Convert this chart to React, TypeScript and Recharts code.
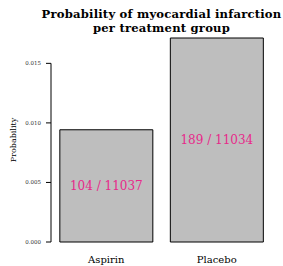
import React from 'react';
import { BarChart, Bar, XAxis, YAxis, LabelList, Label } from 'recharts';

const groups = ['Aspirin', 'Placebo'];
const events = [104, 189];
const totals = [11037, 11034];
const yTicks = [0, 0.005, 0.01, 0.015];
const yTickLabels = ['0.000', '0.005', '0.010', '0.015'];

const data = groups.map((g, i) => ({
  group: g,
  prob: events[i] / totals[i],
  label: `${events[i]} / ${totals[i]}`,
}));

const W = 283;
const H = 266;
const M = { top: 38, right: 11, bottom: 0, left: 0 };
const Y_W = 51;
const X_H = 24;
const PLOT_H = H - M.top - M.bottom - X_H;
const maxProb = Math.max(...data.map((d) => d.prob));
const FONT = 'DejaVu Serif';

const YTick = (props: any) => {
  const { x, y, index } = props;
  const lastTick = yTicks[yTicks.length - 1];
  const span = (lastTick / maxProb) * PLOT_H;
  return (
    <g>
      <line x1={x - 5} y1={y} x2={x} y2={y} stroke="#000" strokeWidth={1} />
      {index === 0 && <line x1={x} y1={y} x2={x} y2={y - span} stroke="#000" strokeWidth={1} />}
      <text x={x - 10} y={y} dy={2} textAnchor="end" fontSize={5.5} fontFamily={FONT} fill="#333">
        {yTickLabels[index]}
      </text>
    </g>
  );
};

const XTick = (props: any) => {
  const { x, y, payload } = props;
  return (
    <text x={x} y={y + 21} textAnchor="middle" fontSize={10} fontFamily={FONT} fill="#000">
      {payload.value}
    </text>
  );
};

const YLabel = (props: any) => {
  const vb = props.viewBox || {};
  const cx = (vb.x || 0) + 16;
  const cy = (vb.y || 0) + (vb.height || 0) / 2;
  return (
    <text x={cx} y={cy} transform={`rotate(-90 ${cx} ${cy})`} textAnchor="middle" fontSize={8} fontFamily={FONT} fill="#000">
      Probability
    </text>
  );
};

export default function App() {
  return (
    <div style={{ position: 'relative', width: W, height: H }}>
      <style>{'html,body{margin:0;padding:0;overflow:hidden;}'}</style>
      <div
        style={{
          position: 'absolute',
          top: 7,
          left: Y_W - 10,
          width: W - Y_W - M.right + 20,
          textAlign: 'center',
          fontFamily: FONT,
          fontWeight: 'bold',
          fontSize: 11.6,
          letterSpacing: 0.2,
          lineHeight: '14px',
          color: '#000',
          zIndex: 1,
          whiteSpace: 'nowrap',
        }}
      >
        Probability of myocardial infarction
        <br />
        per treatment group
      </div>
      <BarChart width={W} height={H} data={data} margin={M} barCategoryGap="8%">
        <XAxis dataKey="group" axisLine={false} tickLine={false} tickSize={0} tickMargin={0} height={X_H} tick={<XTick />} interval={0} />
        <YAxis
          type="number"
          domain={[0, maxProb]}
          ticks={yTicks}
          axisLine={false}
          tickLine={false}
          tickSize={0}
          tickMargin={0}
          width={Y_W}
          tick={<YTick />}
          interval={0}
        >
          <Label content={<YLabel />} />
        </YAxis>
        <Bar dataKey="prob" fill="#bebebe" stroke="#000" strokeWidth={1} isAnimationActive={false}>
          <LabelList dataKey="label" position="center" fill="#e7298a" fontSize={12} fontFamily={FONT} />
        </Bar>
      </BarChart>
    </div>
  );
}
